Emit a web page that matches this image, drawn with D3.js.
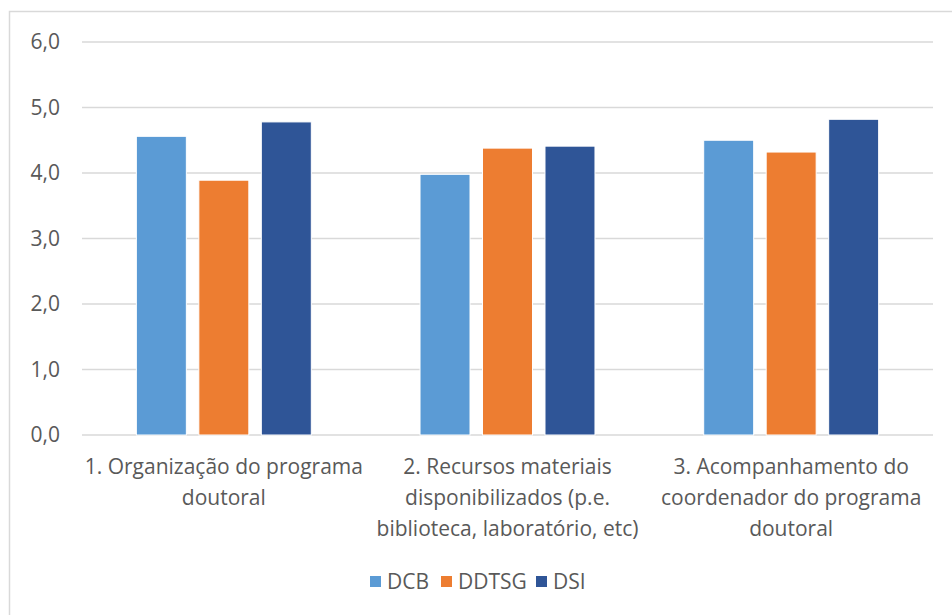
<!DOCTYPE html>
<meta charset="utf-8">
<style>
  body { margin: 0; background: #fff; }
  svg text { font-family: "Open Sans", Lato, sans-serif; fill: #595959; }
</style>
<script src="https://d3js.org/d3.v7.min.js"></script>
<div id="chart"></div>
<script>
// data
var categories = [
  "1. Organização do programa|doutoral",
  "2. Recursos materiais|disponibilizados (p.e.|biblioteca, laboratório, etc)",
  "3. Acompanhamento do|coordenador do programa|doutoral"
];
var seriesNames = ["DCB", "DDTSG", "DSI"];
var dcb   = [4.56, 3.98, 4.50];
var ddtsg = [3.89, 4.38, 4.32];
var dsi   = [4.78, 4.41, 4.82];
var yTicks = [0, 1, 2, 3, 4, 5, 6];
var colors = ["#5B9BD5", "#ED7D31", "#2F5597"];

var W = 952, H = 615;
var margin = {top: 42, right: 19, bottom: 180, left: 82},
    width = W - margin.left - margin.right,
    height = H - margin.top - margin.bottom;
var fontSize = "21px";

var svg = d3.select("#chart").append("svg")
    .attr("width", W).attr("height", H);

// outer chart border
svg.append("rect")
    .attr("x", 9.5).attr("y", 11.5)
    .attr("width", W + 10).attr("height", H + 10)
    .attr("fill", "none").attr("stroke", "#d9d9d9").attr("stroke-width", 1.5);

var g = svg.append("g")
    .attr("transform", "translate(" + margin.left + "," + margin.top + ")");

var x0 = d3.scaleBand().domain(d3.range(categories.length)).range([0, width]);
var x1 = d3.scaleBand().domain(seriesNames).range([0, x0.bandwidth()])
    .paddingInner(0.2).paddingOuter(0.87);
var y = d3.scaleLinear().domain([0, 6]).range([height, 0]);

// gridlines
g.selectAll(".grid").data(yTicks).enter().append("line")
    .attr("x1", 0).attr("x2", width)
    .attr("y1", function(d) { return y(d); })
    .attr("y2", function(d) { return y(d); })
    .attr("stroke", "#d9d9d9").attr("stroke-width", 1.5);

// y axis labels
var yAxis = g.append("g").call(d3.axisLeft(y).tickValues(yTicks)
    .tickSize(0).tickPadding(22)
    .tickFormat(function(d) { return d3.format(".1f")(d).replace(".", ","); }));
yAxis.select(".domain").remove();
yAxis.selectAll("text").style("font-size", fontSize).attr("fill", "#595959")
    .style("font-family", "'Open Sans', Lato, sans-serif");

// bars
var values = [dcb, ddtsg, dsi];
seriesNames.forEach(function(s, si) {
  g.selectAll(".bar" + si).data(values[si]).enter().append("rect")
      .attr("x", function(d, i) { return x0(i) + x1(s); })
      .attr("y", function(d) { return y(d); })
      .attr("width", x1.bandwidth())
      .attr("height", function(d) { return height - y(d); })
      .attr("fill", colors[si])
      .attr("stroke", "#fff").attr("stroke-width", 1);
});

// category labels
categories.forEach(function(c, i) {
  var t = g.append("text")
      .attr("text-anchor", "middle")
      .attr("x", x0(i) + x0.bandwidth() / 2)
      .attr("y", height + 39)
      .style("font-size", fontSize);
  c.split("|").forEach(function(line, li) {
    t.append("tspan").attr("x", x0(i) + x0.bandwidth() / 2)
        .attr("dy", li === 0 ? 0 : 31).text(line);
  });
});

// legend
var legendX = [370, 441, 536];
var leg = svg.append("g");
seriesNames.forEach(function(s, i) {
  leg.append("rect").attr("x", legendX[i]).attr("y", 576)
      .attr("width", 11).attr("height", 11).attr("fill", colors[i]);
  leg.append("text").attr("x", legendX[i] + 17).attr("y", 589)
      .style("font-size", fontSize).text(s);
});
</script>
